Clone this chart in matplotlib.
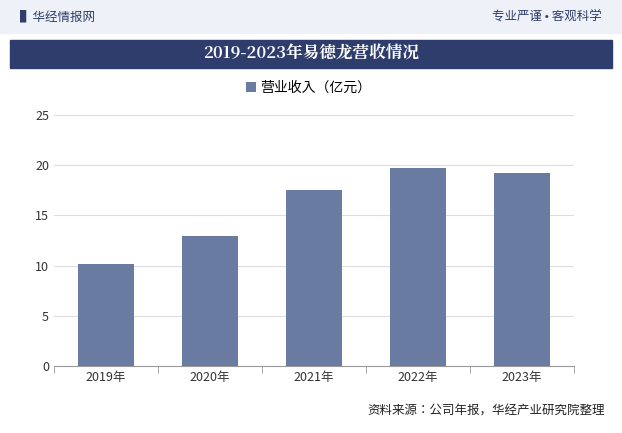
import matplotlib
matplotlib.use("Agg")
import matplotlib.pyplot as plt
from matplotlib.patches import Rectangle
from matplotlib import font_manager as fm

cjk = sorted({f.name for f in fm.fontManager.ttflist if "CJK" in f.name})
sans = [n for n in cjk if "Sans" in n]
serif = [n for n in cjk if "Serif" in n]
fam = "Noto Sans CJK SC" if "Noto Sans CJK SC" in sans else (sans[0] if sans else "DejaVu Sans")
tfam = serif[0] if serif else fam
plt.rcParams["font.family"] = [fam, "DejaVu Sans"]

years = ["2019年", "2020年", "2021年", "2022年", "2023年"]
revenue = [10.2, 12.9, 17.5, 19.7, 19.2]
yticks = [0, 5, 10, 15, 20, 25]

W, H = 622, 433
fig = plt.figure(figsize=(W/100, H/100), dpi=100)
fig.patch.set_facecolor("white")

def box(x0, y0, x1, y1, color):
    fig.patches.append(Rectangle((x0/W, 1-y1/H), (x1-x0)/W, (y1-y0)/H,
                                 transform=fig.transFigure, color=color, zorder=0))

box(0, 0, W, 33, "#EEF2F8")
box(10, 40, 612, 68, "#2E3D6B")
fig.text(20/W, 1-17/H, "▌华经情报网", fontsize=9, color="#2E3D6B", va="center")
fig.text(602/W, 1-17/H, "专业严谨 • 客观科学", fontsize=9, color="#2E3D6B", va="center", ha="right")
fig.text(0.5, 1-54/H, "2019-2023年易德龙营收情况", fontsize=12, color="white",
         va="center", ha="center", fontweight="bold", family=tfam)
fig.text(605/W, 1-411/H, "资料来源：公司年报，华经产业研究院整理", fontsize=9, color="#222222",
         va="center", ha="right")

ax = fig.add_axes([54/W, 1-366/H, (574-54)/W, (366-115)/H])
ax.bar(range(len(years)), revenue, width=0.53, color="#6A7BA2", label="营业收入（亿元）")
ax.set_xlim(-0.5, 4.5)
ax.set_ylim(0, 25)
ax.set_yticks(yticks)
ax.set_xticks(range(len(years)))
ax.set_xticklabels(years)
ax.tick_params(axis="both", labelsize=9, colors="#333333", length=0)
ax.set_xticks([i + 0.5 for i in range(-1, 5)], minor=True)
ax.tick_params(axis="x", which="minor", length=5, color="#999999")
ax.tick_params(axis="x", which="major", length=0)
ax.grid(axis="y", color="#DDDDDD", linewidth=0.8)
ax.set_axisbelow(True)
for s in ["top", "right", "left"]:
    ax.spines[s].set_visible(False)
ax.spines["bottom"].set_color("#999999")
ax.legend(loc="lower center", bbox_to_anchor=(0.49, 1.03), frameon=False, fontsize=10,
          handlelength=0.7, handleheight=0.7, handletextpad=0.3)

fig.savefig("out.png", dpi=100)
